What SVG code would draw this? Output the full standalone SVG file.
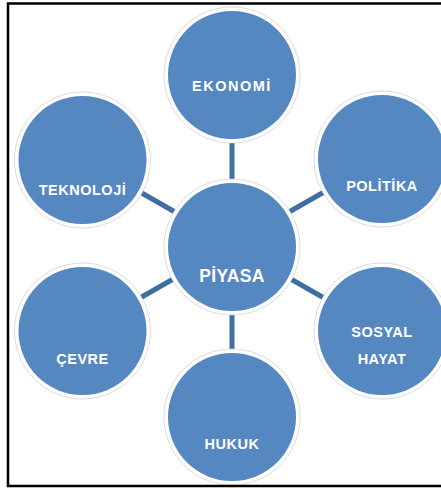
<svg xmlns="http://www.w3.org/2000/svg" width="441" height="488" viewBox="0 0 441 488">
<style>
.ring{fill:#ffffff;stroke:#d2d2d2;stroke-width:0.8}
.disc{fill:#5587c0}
.lbl{font-family:"Liberation Sans",Arial,sans-serif;font-weight:bold;font-size:14.5px;fill:#ffffff;text-anchor:middle;letter-spacing:0.5px}
.wide{letter-spacing:1.5px}
.big{font-size:17.5px;letter-spacing:0.3px}
.conn line{stroke:#3f6ea0;stroke-width:5}
.frame{stroke:#000;stroke-width:2.5;fill:none}
</style>
<rect width="441" height="488" fill="#ffffff"/>
<g class="conn">
<line x1="232" y1="142" x2="232" y2="182"/>
<line x1="232" y1="312" x2="232" y2="352"/>
<line x1="140" y1="192" x2="175" y2="212"/>
<line x1="324" y1="192" x2="289" y2="212"/>
<line x1="140" y1="298" x2="175" y2="278"/>
<line x1="324" y1="298" x2="289" y2="278"/>
</g>
<g id="ekonomi"><circle class="ring" cx="232" cy="75" r="68"/><circle class="disc" cx="232" cy="75" r="64"/><text class="lbl wide" x="232" y="91">EKONOMİ</text></g>
<g id="teknoloji"><circle class="ring" cx="82.5" cy="160" r="68"/><circle class="disc" cx="82.5" cy="160" r="64"/><text class="lbl" x="82.5" y="195">TEKNOLOJİ</text></g>
<g id="politika"><circle class="ring" cx="382" cy="159" r="68"/><circle class="disc" cx="382" cy="159" r="64"/><text class="lbl" x="382" y="191">POLİTİKA</text></g>
<g id="piyasa"><circle class="ring" cx="232" cy="247" r="68"/><circle class="disc" cx="232" cy="247" r="64"/><text class="lbl big" x="232" y="282">PİYASA</text></g>
<g id="cevre"><circle class="ring" cx="82.5" cy="331" r="68"/><circle class="disc" cx="82.5" cy="331" r="64"/><text class="lbl" x="82.5" y="364">ÇEVRE</text></g>
<g id="sosyal-hayat"><circle class="ring" cx="382" cy="331" r="68"/><circle class="disc" cx="382" cy="331" r="64"/><text class="lbl" x="382" y="337">SOSYAL</text><text class="lbl" x="382" y="364">HAYAT</text></g>
<g id="hukuk"><circle class="ring" cx="232" cy="417" r="68"/><circle class="disc" cx="232" cy="417" r="64"/><text class="lbl" x="232" y="449">HUKUK</text></g>
<path class="frame" d="M441,3.5 H8 V486 H441"/>
</svg>
